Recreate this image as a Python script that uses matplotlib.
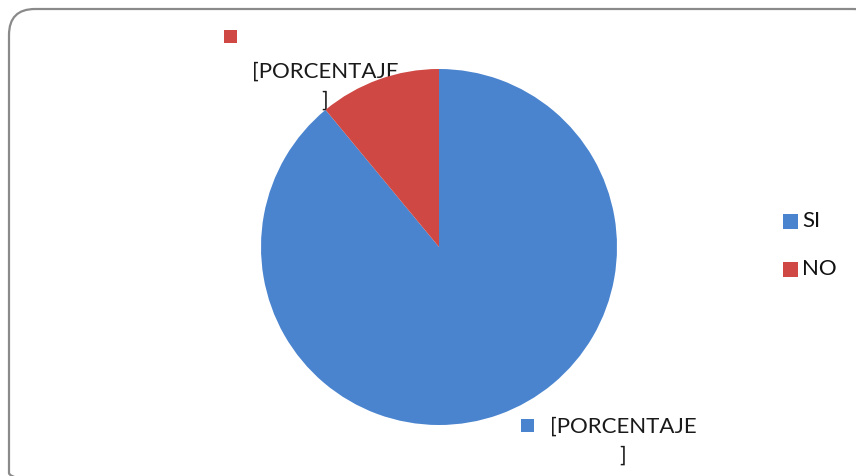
import matplotlib
matplotlib.use("Agg")
import matplotlib.pyplot as plt
from matplotlib.patches import FancyBboxPatch, Rectangle

categories = ["SI", "NO"]
values = [89, 11]
colors = ["#4A84CF", "#CF4844"]
data_label_text = "[PORCENTAJE\n]"

W, H = 856, 476
fig = plt.figure(figsize=(W / 100, H / 100), dpi=100)
fig.patch.set_facecolor("white")

# overlay axes in pixel coordinates (y downward)
ov = fig.add_axes([0, 0, 1, 1])
ov.set_xlim(0, W)
ov.set_ylim(H, 0)
ov.axis("off")

# rounded chart border
ov.add_patch(FancyBboxPatch((9, 9), 870, 490, boxstyle="round,pad=0,rounding_size=26",
                            fill=False, edgecolor="#8A8A8A", linewidth=1.6, clip_on=True))

# pie
cx, cy, r = 439, 247, 178
pax = fig.add_axes([(cx - r) / W, (H - cy - r) / H, 2 * r / W, 2 * r / H])
wedges, _ = pax.pie(values, colors=colors, startangle=90, counterclock=False,
                    radius=1.0, wedgeprops=dict(edgecolor="none"))
pax.set_xlim(-1, 1)
pax.set_ylim(-1, 1)
pax.set_aspect("equal")
pax.axis("off")

font = "Lato"
fs = 16

# data labels (with legend keys), positions for SI, NO
label_pos = [(623, 441), (325, 86)]
key_pos = [(528, 425), (231, 36)]
for i, cat in enumerate(categories):
    kx, ky = key_pos[i]
    ov.add_patch(Rectangle((kx - 6.5, ky - 6.5), 13, 13, facecolor=colors[i], edgecolor="none"))
    tx, ty = label_pos[i]
    ov.text(tx, ty, data_label_text, ha="center", va="center", fontsize=fs,
            family=font, color="#1a1a1a", linespacing=1.55)

# legend
leg_y = [221, 269]
for i, cat in enumerate(categories):
    ov.add_patch(Rectangle((783, leg_y[i] - 7.5), 15, 15, facecolor=colors[i], edgecolor="none"))
    ov.text(802, leg_y[i], cat, ha="left", va="center", fontsize=fs, family=font, color="#111111")

fig.savefig("out.png", dpi=100)
